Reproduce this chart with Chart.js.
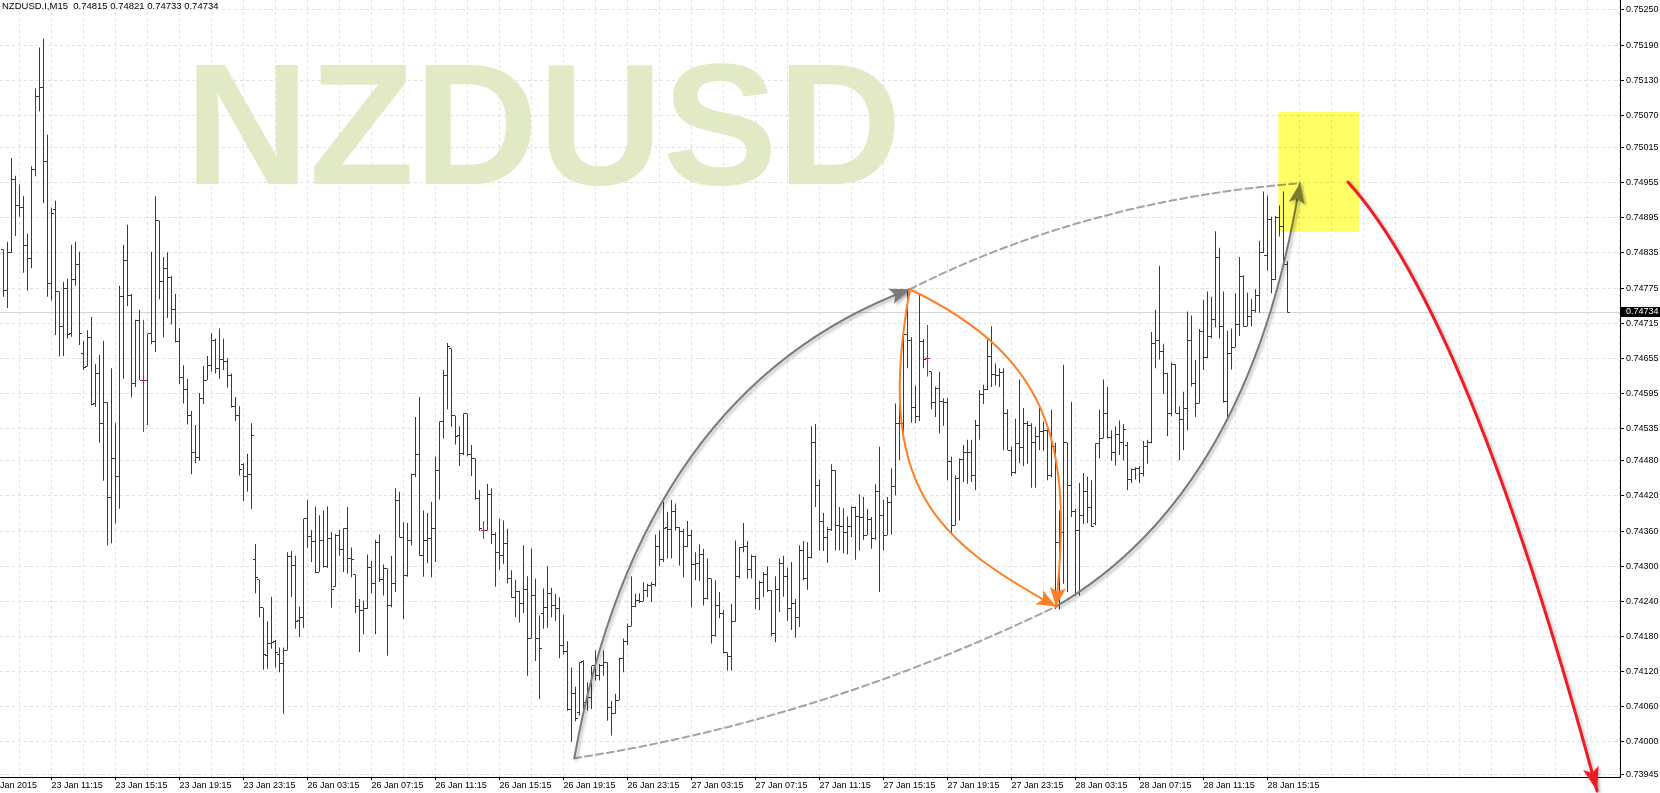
<!DOCTYPE html>
<html>
<head>
<meta charset="utf-8">
<title>NZDUSD.I M15</title>
<script src="https://cdn.jsdelivr.net/npm/chart.js@4.4.1/dist/chart.umd.min.js"></script>
<style>
  html, body { margin: 0; padding: 0; background: #fff; }
  canvas { display: block; }
</style>
</head>
<body>
<canvas id="grafico" width="1660" height="793"></canvas>
<script>
// ---- M15 bars, 23 Jan 08:15 .. 28 Jan 16:30 (index = bar number) ----
const barOpen = [
  0.74841, 0.74771, 0.74836, 0.74961, 0.74916, 0.74912, 0.74848, 0.74825, 0.74977, 0.75103,
  0.75118, 0.74991, 0.74783, 0.74909, 0.74769, 0.74709, 0.74775, 0.74697, 0.74789, 0.74815,
  0.74664, 0.74641, 0.74691, 0.74578, 0.74629, 0.74543, 0.74580, 0.74418, 0.74484, 0.74454,
  0.74760, 0.74822, 0.74763, 0.74612, 0.74719, 0.74618, 0.74618, 0.74697, 0.74683, 0.74890,
  0.74786, 0.74808, 0.74793, 0.74738, 0.74683, 0.74622, 0.74602, 0.74557, 0.74494, 0.74486,
  0.74587, 0.74618, 0.74642, 0.74686, 0.74638, 0.74653, 0.74650, 0.74625, 0.74572, 0.74557,
  0.74474, 0.74454, 0.74457, 0.74311, 0.74277, 0.74229, 0.74147, 0.74168, 0.74172, 0.74149,
  0.74133, 0.74156, 0.74316, 0.74302, 0.74207, 0.74213, 0.74381, 0.74351, 0.74342, 0.74290,
  0.74344, 0.74300, 0.74347, 0.74265, 0.74353, 0.74328, 0.74364, 0.74314, 0.74286, 0.74231,
  0.74224, 0.74227, 0.74298, 0.74271, 0.74341, 0.74277, 0.74296, 0.74233, 0.74270, 0.74413,
  0.74349, 0.74284, 0.74344, 0.74457, 0.74491, 0.74318, 0.74344, 0.74347, 0.74364, 0.74464,
  0.74547, 0.74625, 0.74672, 0.74557, 0.74524, 0.74492, 0.74560, 0.74490, 0.74484, 0.74415,
  0.74361, 0.74361, 0.74423, 0.74354, 0.74324, 0.74318, 0.74338, 0.74279, 0.74247, 0.74256,
  0.74237, 0.74260, 0.74176, 0.74250, 0.74176, 0.74219, 0.74230, 0.74253, 0.74233, 0.74227,
  0.74164, 0.74155, 0.74055, 0.74082, 0.74050, 0.74137, 0.74067, 0.74076, 0.74130, 0.74113,
  0.74130, 0.74136, 0.74059, 0.74048, 0.74071, 0.74143, 0.74172, 0.74197, 0.74231, 0.74242,
  0.74240, 0.74258, 0.74267, 0.74269, 0.74334, 0.74311, 0.74366, 0.74362, 0.74394, 0.74366,
  0.74360, 0.74333, 0.74353, 0.74303, 0.74304, 0.74320, 0.74244, 0.74279, 0.74182, 0.74233,
  0.74219, 0.74153, 0.74145, 0.74205, 0.74283, 0.74332, 0.74334, 0.74295, 0.74316, 0.74244,
  0.74272, 0.74286, 0.74259, 0.74185, 0.74260, 0.74304, 0.74283, 0.74227, 0.74236, 0.74213,
  0.74327, 0.74279, 0.74315, 0.74511, 0.74438, 0.74377, 0.74349, 0.74363, 0.74464, 0.74370,
  0.74367, 0.74358, 0.74367, 0.74400, 0.74385, 0.74384, 0.74353, 0.74380, 0.74347, 0.74428,
  0.74387, 0.74353, 0.74408, 0.74436, 0.74544, 0.74543, 0.74695, 0.74685, 0.74571, 0.74555,
  0.74684, 0.74655, 0.74632, 0.74579, 0.74604, 0.74581, 0.74579, 0.74478, 0.74370, 0.74450,
  0.74482, 0.74494, 0.74495, 0.74455, 0.74541, 0.74594, 0.74601, 0.74659, 0.74627, 0.74625,
  0.74630, 0.74561, 0.74498, 0.74460, 0.74510, 0.74503, 0.74544, 0.74541, 0.74511, 0.74521,
  0.74530, 0.74532, 0.74455, 0.74504, 0.74341, 0.74358, 0.74511, 0.74438, 0.74393, 0.74361,
  0.74387, 0.74428, 0.74400, 0.74373, 0.74510, 0.74518, 0.74560, 0.74520, 0.74495, 0.74525,
  0.74512, 0.74507, 0.74448, 0.74465, 0.74467, 0.74459, 0.74504, 0.74511, 0.74681, 0.74685,
  0.74666, 0.74629, 0.74561, 0.74644, 0.74561, 0.74551, 0.74570, 0.74686, 0.74612, 0.74578,
  0.74700, 0.74657, 0.74692, 0.74721, 0.74828, 0.74709, 0.74581, 0.74663, 0.74674, 0.74712,
  0.74795, 0.74710, 0.74726, 0.74736, 0.74763, 0.74836, 0.74830, 0.74892, 0.74789, 0.74896,
  0.74880, 0.74815
];
const barHigh = [
  0.74841, 0.74854, 0.74997, 0.74967, 0.74952, 0.74932, 0.74868, 0.74983, 0.75116, 0.75186,
  0.75201, 0.75037, 0.74912, 0.74924, 0.74769, 0.74786, 0.74791, 0.74849, 0.74854, 0.74837,
  0.74685, 0.74703, 0.74726, 0.74645, 0.74661, 0.74685, 0.74580, 0.74638, 0.74544, 0.74779,
  0.74849, 0.74883, 0.74765, 0.74721, 0.74738, 0.74721, 0.74697, 0.74837, 0.74932, 0.74890,
  0.74828, 0.74836, 0.74795, 0.74765, 0.74707, 0.74643, 0.74620, 0.74565, 0.74541, 0.74596,
  0.74642, 0.74659, 0.74698, 0.74689, 0.74706, 0.74689, 0.74655, 0.74629, 0.74589, 0.74573,
  0.74476, 0.74492, 0.74544, 0.74338, 0.74277, 0.74229, 0.74206, 0.74248, 0.74174, 0.74161,
  0.74161, 0.74324, 0.74326, 0.74318, 0.74231, 0.74381, 0.74413, 0.74362, 0.74402, 0.74387,
  0.74395, 0.74402, 0.74358, 0.74355, 0.74362, 0.74365, 0.74401, 0.74332, 0.74286, 0.74244,
  0.74241, 0.74320, 0.74309, 0.74345, 0.74354, 0.74303, 0.74296, 0.74318, 0.74433, 0.74427,
  0.74375, 0.74374, 0.74458, 0.74555, 0.74589, 0.74395, 0.74391, 0.74410, 0.74487, 0.74547,
  0.74635, 0.74681, 0.74672, 0.74557, 0.74539, 0.74561, 0.74561, 0.74507, 0.74484, 0.74430,
  0.74377, 0.74441, 0.74433, 0.74358, 0.74381, 0.74378, 0.74364, 0.74293, 0.74277, 0.74258,
  0.74336, 0.74283, 0.74330, 0.74279, 0.74216, 0.74262, 0.74300, 0.74263, 0.74253, 0.74247,
  0.74217, 0.74172, 0.74127, 0.74094, 0.74136, 0.74139, 0.74102, 0.74130, 0.74156, 0.74133,
  0.74156, 0.74136, 0.74070, 0.74082, 0.74144, 0.74176, 0.74202, 0.74283, 0.74253, 0.74254,
  0.74273, 0.74270, 0.74273, 0.74354, 0.74361, 0.74410, 0.74393, 0.74413, 0.74407, 0.74367,
  0.74364, 0.74377, 0.74362, 0.74324, 0.74337, 0.74330, 0.74313, 0.74279, 0.74276, 0.74256,
  0.74225, 0.74153, 0.74236, 0.74344, 0.74333, 0.74374, 0.74343, 0.74320, 0.74318, 0.74275,
  0.74290, 0.74300, 0.74259, 0.74283, 0.74313, 0.74318, 0.74298, 0.74307, 0.74244, 0.74336,
  0.74343, 0.74341, 0.74539, 0.74543, 0.74448, 0.74391, 0.74367, 0.74474, 0.74464, 0.74401,
  0.74399, 0.74385, 0.74402, 0.74402, 0.74423, 0.74418, 0.74398, 0.74384, 0.74440, 0.74504,
  0.74413, 0.74418, 0.74467, 0.74578, 0.74578, 0.74698, 0.74773, 0.74691, 0.74608, 0.74765,
  0.74688, 0.74712, 0.74632, 0.74607, 0.74632, 0.74587, 0.74587, 0.74487, 0.74455, 0.74484,
  0.74507, 0.74516, 0.74516, 0.74550, 0.74601, 0.74610, 0.74687, 0.74710, 0.74646, 0.74638,
  0.74638, 0.74568, 0.74504, 0.74552, 0.74619, 0.74570, 0.74548, 0.74544, 0.74538, 0.74573,
  0.74547, 0.74535, 0.74567, 0.74511, 0.74395, 0.74644, 0.74511, 0.74581, 0.74398, 0.74442,
  0.74459, 0.74453, 0.74447, 0.74510, 0.74567, 0.74619, 0.74606, 0.74532, 0.74539, 0.74549,
  0.74543, 0.74512, 0.74467, 0.74469, 0.74471, 0.74514, 0.74516, 0.74700, 0.74738, 0.74813,
  0.74680, 0.74630, 0.74648, 0.74645, 0.74573, 0.74598, 0.74735, 0.74728, 0.74652, 0.74705,
  0.74755, 0.74769, 0.74760, 0.74872, 0.74844, 0.74769, 0.74702, 0.74706, 0.74766, 0.74828,
  0.74797, 0.74767, 0.74756, 0.74773, 0.74856, 0.74940, 0.74933, 0.74897, 0.74898, 0.74916,
  0.74940, 0.74821
];
const barLow = [
  0.74760, 0.74741, 0.74835, 0.74864, 0.74897, 0.74801, 0.74771, 0.74809, 0.74966, 0.75077,
  0.74920, 0.74760, 0.74754, 0.74695, 0.74658, 0.74659, 0.74689, 0.74692, 0.74779, 0.74678,
  0.74635, 0.74641, 0.74575, 0.74572, 0.74511, 0.74446, 0.74336, 0.74339, 0.74373, 0.74398,
  0.74620, 0.74744, 0.74588, 0.74606, 0.74618, 0.74529, 0.74541, 0.74679, 0.74666, 0.74756,
  0.74691, 0.74724, 0.74713, 0.74682, 0.74611, 0.74578, 0.74542, 0.74457, 0.74476, 0.74480,
  0.74577, 0.74618, 0.74632, 0.74629, 0.74620, 0.74635, 0.74605, 0.74571, 0.74548, 0.74455,
  0.74411, 0.74427, 0.74398, 0.74254, 0.74213, 0.74123, 0.74125, 0.74159, 0.74127, 0.74119,
  0.74048, 0.74156, 0.74248, 0.74193, 0.74179, 0.74195, 0.74331, 0.74307, 0.74288, 0.74290,
  0.74298, 0.74297, 0.74229, 0.74265, 0.74318, 0.74290, 0.74287, 0.74281, 0.74220, 0.74153,
  0.74184, 0.74227, 0.74254, 0.74184, 0.74273, 0.74250, 0.74147, 0.74230, 0.74256, 0.74349,
  0.74210, 0.74282, 0.74336, 0.74452, 0.74318, 0.74282, 0.74305, 0.74281, 0.74307, 0.74414,
  0.74518, 0.74568, 0.74538, 0.74508, 0.74471, 0.74490, 0.74488, 0.74454, 0.74414, 0.74360,
  0.74347, 0.74361, 0.74338, 0.74265, 0.74294, 0.74304, 0.74271, 0.74246, 0.74213, 0.74204,
  0.74220, 0.74113, 0.74176, 0.74138, 0.74073, 0.74193, 0.74195, 0.74213, 0.74207, 0.74143,
  0.74149, 0.74053, 0.74000, 0.74035, 0.74045, 0.74048, 0.74053, 0.74056, 0.74105, 0.74105,
  0.74113, 0.74036, 0.74011, 0.74048, 0.74071, 0.74119, 0.74165, 0.74197, 0.74230, 0.74237,
  0.74240, 0.74247, 0.74239, 0.74265, 0.74300, 0.74307, 0.74313, 0.74313, 0.74361, 0.74301,
  0.74281, 0.74333, 0.74230, 0.74276, 0.74275, 0.74233, 0.74243, 0.74168, 0.74180, 0.74211,
  0.74151, 0.74122, 0.74122, 0.74205, 0.74279, 0.74324, 0.74279, 0.74279, 0.74227, 0.74225,
  0.74248, 0.74256, 0.74180, 0.74170, 0.74222, 0.74248, 0.74207, 0.74191, 0.74178, 0.74196,
  0.74276, 0.74260, 0.74313, 0.74401, 0.74327, 0.74326, 0.74306, 0.74360, 0.74327, 0.74327,
  0.74322, 0.74320, 0.74350, 0.74311, 0.74327, 0.74345, 0.74353, 0.74330, 0.74345, 0.74256,
  0.74327, 0.74353, 0.74354, 0.74421, 0.74481, 0.74524, 0.74638, 0.74545, 0.74544, 0.74548,
  0.74638, 0.74624, 0.74568, 0.74555, 0.74527, 0.74540, 0.74447, 0.74357, 0.74370, 0.74378,
  0.74444, 0.74441, 0.74444, 0.74430, 0.74516, 0.74577, 0.74601, 0.74606, 0.74609, 0.74606,
  0.74498, 0.74498, 0.74454, 0.74458, 0.74476, 0.74471, 0.74475, 0.74434, 0.74434, 0.74498,
  0.74497, 0.74447, 0.74452, 0.74227, 0.74227, 0.74270, 0.74256, 0.74384, 0.74250, 0.74250,
  0.74372, 0.74374, 0.74367, 0.74370, 0.74484, 0.74518, 0.74518, 0.74480, 0.74472, 0.74490,
  0.74481, 0.74430, 0.74442, 0.74448, 0.74442, 0.74453, 0.74475, 0.74510, 0.74638, 0.74653,
  0.74594, 0.74522, 0.74556, 0.74561, 0.74481, 0.74498, 0.74532, 0.74607, 0.74555, 0.74578,
  0.74635, 0.74655, 0.74689, 0.74708, 0.74689, 0.74579, 0.74554, 0.74636, 0.74674, 0.74693,
  0.74709, 0.74710, 0.74710, 0.74733, 0.74733, 0.74835, 0.74805, 0.74766, 0.74789, 0.74863,
  0.74815, 0.74733
];
const barClose = [
  0.74771, 0.74835, 0.74961, 0.74916, 0.74912, 0.74848, 0.74825, 0.74977, 0.75103, 0.75117,
  0.74991, 0.74783, 0.74903, 0.74769, 0.74709, 0.74775, 0.74695, 0.74789, 0.74815, 0.74697,
  0.74640, 0.74691, 0.74577, 0.74629, 0.74543, 0.74580, 0.74418, 0.74484, 0.74454, 0.74760,
  0.74822, 0.74763, 0.74612, 0.74719, 0.74618, 0.74618, 0.74697, 0.74683, 0.74890, 0.74786,
  0.74808, 0.74793, 0.74738, 0.74683, 0.74622, 0.74602, 0.74557, 0.74494, 0.74486, 0.74587,
  0.74618, 0.74642, 0.74686, 0.74638, 0.74653, 0.74650, 0.74625, 0.74572, 0.74557, 0.74465,
  0.74454, 0.74457, 0.74524, 0.74280, 0.74229, 0.74150, 0.74168, 0.74170, 0.74153, 0.74133,
  0.74156, 0.74316, 0.74302, 0.74205, 0.74213, 0.74381, 0.74351, 0.74342, 0.74290, 0.74344,
  0.74300, 0.74347, 0.74261, 0.74353, 0.74328, 0.74364, 0.74314, 0.74311, 0.74231, 0.74224,
  0.74227, 0.74298, 0.74271, 0.74341, 0.74277, 0.74296, 0.74233, 0.74270, 0.74413, 0.74349,
  0.74284, 0.74344, 0.74457, 0.74491, 0.74318, 0.74344, 0.74347, 0.74364, 0.74464, 0.74547,
  0.74626, 0.74676, 0.74557, 0.74521, 0.74492, 0.74560, 0.74490, 0.74484, 0.74415, 0.74364,
  0.74361, 0.74423, 0.74354, 0.74324, 0.74318, 0.74338, 0.74279, 0.74247, 0.74256, 0.74237,
  0.74260, 0.74176, 0.74250, 0.74176, 0.74160, 0.74230, 0.74253, 0.74233, 0.74227, 0.74164,
  0.74155, 0.74055, 0.74082, 0.74040, 0.74136, 0.74067, 0.74076, 0.74130, 0.74113, 0.74130,
  0.74136, 0.74059, 0.74048, 0.74070, 0.74143, 0.74172, 0.74197, 0.74231, 0.74242, 0.74240,
  0.74258, 0.74267, 0.74269, 0.74334, 0.74311, 0.74364, 0.74362, 0.74394, 0.74366, 0.74360,
  0.74333, 0.74353, 0.74303, 0.74304, 0.74320, 0.74244, 0.74279, 0.74182, 0.74233, 0.74219,
  0.74153, 0.74145, 0.74205, 0.74283, 0.74332, 0.74334, 0.74295, 0.74316, 0.74244, 0.74272,
  0.74286, 0.74259, 0.74185, 0.74260, 0.74304, 0.74283, 0.74227, 0.74236, 0.74213, 0.74327,
  0.74279, 0.74315, 0.74511, 0.74438, 0.74377, 0.74349, 0.74363, 0.74464, 0.74370, 0.74367,
  0.74358, 0.74367, 0.74400, 0.74385, 0.74384, 0.74353, 0.74380, 0.74347, 0.74428, 0.74387,
  0.74353, 0.74408, 0.74436, 0.74544, 0.74543, 0.74695, 0.74685, 0.74571, 0.74555, 0.74684,
  0.74653, 0.74655, 0.74579, 0.74604, 0.74581, 0.74579, 0.74478, 0.74370, 0.74450, 0.74482,
  0.74494, 0.74495, 0.74455, 0.74541, 0.74594, 0.74601, 0.74659, 0.74627, 0.74625, 0.74630,
  0.74561, 0.74498, 0.74460, 0.74510, 0.74503, 0.74544, 0.74541, 0.74511, 0.74521, 0.74530,
  0.74532, 0.74455, 0.74504, 0.74341, 0.74358, 0.74511, 0.74438, 0.74393, 0.74361, 0.74387,
  0.74428, 0.74400, 0.74368, 0.74510, 0.74518, 0.74560, 0.74520, 0.74495, 0.74525, 0.74512,
  0.74533, 0.74448, 0.74465, 0.74467, 0.74459, 0.74504, 0.74511, 0.74681, 0.74685, 0.74666,
  0.74629, 0.74561, 0.74644, 0.74561, 0.74551, 0.74570, 0.74686, 0.74612, 0.74578, 0.74700,
  0.74657, 0.74692, 0.74721, 0.74828, 0.74709, 0.74581, 0.74663, 0.74674, 0.74712, 0.74795,
  0.74709, 0.74726, 0.74736, 0.74763, 0.74836, 0.74830, 0.74892, 0.74789, 0.74896, 0.74880,
  0.74815, 0.74734
];

// time axis: labels every 16 bars (weekend bars are skipped)
const timeTickIdx = [-4, 12, 28, 44, 60, 76, 92, 108, 124, 140, 156, 172, 188, 204, 220, 236, 252, 268, 284, 300, 316];
const timeTickLabels = [
  "23 Jan 2015", "23 Jan 11:15", "23 Jan 15:15", "23 Jan 19:15", "23 Jan 23:15",
  "26 Jan 03:15", "26 Jan 07:15", "26 Jan 11:15", "26 Jan 15:15", "26 Jan 19:15",
  "26 Jan 23:15", "27 Jan 03:15", "27 Jan 07:15", "27 Jan 11:15", "27 Jan 15:15",
  "27 Jan 19:15", "27 Jan 23:15", "28 Jan 03:15", "28 Jan 07:15", "28 Jan 11:15", "28 Jan 15:15"
];
const priceTicks = [
  0.75250, 0.75190, 0.75130, 0.75070, 0.75015, 0.74955, 0.74895, 0.74835, 0.74775, 0.74715,
  0.74655, 0.74595, 0.74535, 0.74480, 0.74420, 0.74360, 0.74300, 0.74240, 0.74180, 0.74120,
  0.74060, 0.74000, 0.73945
];
const symbolName = "NZDUSD";
const symbolHeader = "NZDUSD.I,M15";

// drawing objects, anchored as [bar index, price]
const dashedCurves = [
  [[142.7, 0.73972], [203.8, 0.74036], [263.1, 0.74231]],
  [[226.6, 0.74773], [270.6, 0.74925], [324.1, 0.74954]]
];
const grayArrows = [
  [[142.7, 0.73972], [159.1, 0.74601], [226.6, 0.74773]],
  [[263.1, 0.74231], [311.6, 0.74425], [324.1, 0.74954]]
];
const orangeArrows = [
  [[226.6, 0.74773], [217.6, 0.74432], [233.1, 0.74345], [263.1, 0.74231]],
  [[226.6, 0.74773], [262.1, 0.74656], [267.4, 0.74507], [263.1, 0.74231]]
];
const redArrow = [[336.1, 0.74956], [366.2, 0.74730], [398.4, 0.73916]];
const targetBox = { from: [318.7, 0.75076], to: [338.9, 0.74871] };

const barColor = "#3a3a3a";
const dojiColor = "#dc143c";
const lastIdx = barClose.length - 1;

Chart.defaults.font.family = '"Liberation Sans", Arial, sans-serif';
Chart.defaults.font.size = 9;
Chart.defaults.color = "#000";

function toPx(chart, p) {
  return { x: chart.scales.x.getPixelForValue(p[0]), y: chart.scales.y.getPixelForValue(p[1]) };
}

function strokeCurve(ctx, pts) {
  ctx.beginPath();
  ctx.moveTo(pts[0].x, pts[0].y);
  if (pts.length === 3) ctx.quadraticCurveTo(pts[1].x, pts[1].y, pts[2].x, pts[2].y);
  else ctx.bezierCurveTo(pts[1].x, pts[1].y, pts[2].x, pts[2].y, pts[3].x, pts[3].y);
  ctx.stroke();
}

function arrowHead(ctx, tip, back, len, half) {
  const ang = Math.atan2(tip.y - back.y, tip.x - back.x);
  ctx.save();
  ctx.translate(tip.x, tip.y);
  ctx.rotate(ang);
  ctx.beginPath();
  ctx.moveTo(0, 0);
  ctx.lineTo(-len, -half);
  ctx.lineTo(-len * 0.78, 0);
  ctx.lineTo(-len, half);
  ctx.closePath();
  ctx.fill();
  ctx.restore();
}

const drawingsPlugin = {
  id: "drawings",
  beforeDatasetsDraw(chart) {
    const { ctx, chartArea: a, scales: { y } } = chart;
    ctx.save();
    // watermark label
    ctx.font = 'bold 172px "Liberation Sans", Arial, sans-serif';
    ctx.fillStyle = "#e2eac5";
    ctx.textBaseline = "alphabetic";
    ctx.fillText(symbolName, a.left + 185, a.top + 184);
    // bid line
    const yp = Math.floor(y.getPixelForValue(barClose[lastIdx])) + 0.5;
    ctx.strokeStyle = "#d4d4d4";
    ctx.lineWidth = 1;
    ctx.beginPath();
    ctx.moveTo(a.left, yp);
    ctx.lineTo(a.right, yp);
    ctx.stroke();
    ctx.restore();
  },
  afterDatasetsDraw(chart) {
    const { ctx, chartArea: a, scales: { x, y } } = chart;
    ctx.save();
    // open / close ticks of the bars
    ctx.beginPath();
    ctx.rect(a.left, a.top, a.right - a.left, a.bottom - a.top);
    ctx.clip();
    for (let i = 0; i < barOpen.length; i++) {
      ctx.fillStyle = barOpen[i] === barClose[i] ? dojiColor : barColor;
      const xp = x.getPixelForValue(i);
      ctx.fillRect(xp - 2.5, Math.floor(y.getPixelForValue(barOpen[i])), 2, 1);
      ctx.fillRect(xp + 0.5, Math.floor(y.getPixelForValue(barClose[i])), 2, 1);
    }
    ctx.restore();

    ctx.save();
    ctx.lineCap = "round";
    // dashed arcs
    ctx.strokeStyle = "#a3a3a3";
    ctx.lineWidth = 2;
    ctx.setLineDash([7, 4]);
    dashedCurves.forEach(c => strokeCurve(ctx, c.map(p => toPx(chart, p))));
    ctx.setLineDash([]);

    // gray arrows with soft shadow
    ctx.save();
    ctx.shadowColor = "rgba(0,0,0,0.28)";
    ctx.shadowBlur = 3;
    ctx.shadowOffsetX = 2;
    ctx.shadowOffsetY = 2;
    ctx.strokeStyle = "#7b7b7b";
    ctx.fillStyle = "#7b7b7b";
    ctx.lineWidth = 2;
    grayArrows.forEach(c => {
      const pts = c.map(p => toPx(chart, p));
      strokeCurve(ctx, pts);
      arrowHead(ctx, pts[pts.length - 1], pts[pts.length - 2], 20, 8);
    });
    ctx.restore();

    // orange arrows
    ctx.strokeStyle = "#ff7f27";
    ctx.fillStyle = "#ff7f27";
    ctx.lineWidth = 2;
    orangeArrows.forEach(c => {
      const pts = c.map(p => toPx(chart, p));
      strokeCurve(ctx, pts);
      arrowHead(ctx, pts[3], pts[2], 19, 8);
    });

    // target zone (tints what lies under it)
    const b0 = toPx(chart, targetBox.from);
    const b1 = toPx(chart, targetBox.to);
    ctx.save();
    ctx.globalCompositeOperation = "multiply";
    ctx.fillStyle = "#ffff66";
    ctx.fillRect(b0.x, b0.y, b1.x - b0.x, b1.y - b0.y);
    ctx.restore();

    // red arrow
    ctx.save();
    ctx.shadowColor = "rgba(0,0,0,0.22)";
    ctx.shadowBlur = 3;
    ctx.shadowOffsetX = 2;
    ctx.shadowOffsetY = 1;
    const r = redArrow.map(p => toPx(chart, p));
    ctx.strokeStyle = "#ee1c25";
    ctx.fillStyle = "#ee1c25";
    ctx.lineWidth = 3;
    strokeCurve(ctx, r);
    arrowHead(ctx, r[2], r[1], 24, 8);
    ctx.restore();

    // header text
    ctx.fillStyle = "#000";
    ctx.font = '9.5px "Liberation Sans", Arial, sans-serif';
    ctx.textBaseline = "middle";
    const hdr = symbolHeader + "  " + [barOpen[lastIdx], barHigh[lastIdx], barLow[lastIdx], barClose[lastIdx]]
      .map(v => v.toFixed(5)).join(" ");
    ctx.fillText(hdr, a.left + 2, a.top + 6);
    ctx.restore();
  },
  afterDraw(chart) {
    const { ctx, chartArea: a, scales: { y } } = chart;
    const yp = y.getPixelForValue(barClose[lastIdx]);
    ctx.save();
    ctx.fillStyle = "#000";
    ctx.fillRect(a.right + 1, Math.round(yp) - 5, 39, 10);
    ctx.fillStyle = "#fff";
    ctx.font = '9px "Liberation Sans", Arial, sans-serif';
    ctx.textBaseline = "middle";
    ctx.fillText(barClose[lastIdx].toFixed(5), a.right + 6, Math.round(yp));
    ctx.restore();
  }
};

const gridIdx = [];
for (let v = -4; v <= 404; v += 8) gridIdx.push(v);

new Chart(document.getElementById("grafico").getContext("2d"), {
  type: "bar",
  data: {
    datasets: [{
      data: barHigh.map((h, i) => ({ x: i, y: [barLow[i], h] })),
      backgroundColor: barOpen.map((o, i) => o === barClose[i] ? dojiColor : barColor),
      barThickness: 1,
      borderWidth: 0,
      inflateAmount: 0,
      grouped: false
    }]
  },
  options: {
    responsive: false,
    devicePixelRatio: 1,
    animation: false,
    events: [],
    layout: { padding: 0 },
    plugins: { legend: { display: false }, tooltip: { enabled: false } },
    scales: {
      x: {
        type: "linear",
        min: -0.875,
        max: 404.125,
        bounds: "data",
        offset: false,
        afterBuildTicks: s => { s.ticks = gridIdx.map(v => ({ value: v })); },
        afterFit: s => { s.height = 16; s.paddingLeft = 0; s.paddingRight = 0; },
        grid: {
          offset: false,
          color: "#e1e1e1",
          tickLength: 3,
          tickColor: c => (c.tick && timeTickIdx.includes(c.tick.value)) ? "#000" : "rgba(0,0,0,0)"
        },
        border: { display: true, color: "#000", width: 1, dash: [3, 3] },
        ticks: {
          autoSkip: false,
          maxRotation: 0,
          minRotation: 0,
          align: "start",
          padding: 0,
          callback: v => {
            const k = timeTickIdx.indexOf(v);
            return k >= 0 ? timeTickLabels[k] : "";
          }
        }
      },
      y: {
        type: "linear",
        position: "right",
        min: 0.73940,
        max: 0.75267,
        bounds: "data",
        afterBuildTicks: s => { s.ticks = priceTicks.map(v => ({ value: v })); },
        afterFit: s => { s.width = 40; s.paddingTop = 0; s.paddingBottom = 0; },
        grid: { color: "#e1e1e1", tickLength: 4, tickColor: "#000" },
        border: { display: true, color: "#000", width: 1, dash: [3, 3] },
        ticks: {
          padding: 2,
          autoSkip: false,
          callback: v => v.toFixed(5)
        }
      }
    }
  },
  plugins: [drawingsPlugin]
});
</script>
</body>
</html>
